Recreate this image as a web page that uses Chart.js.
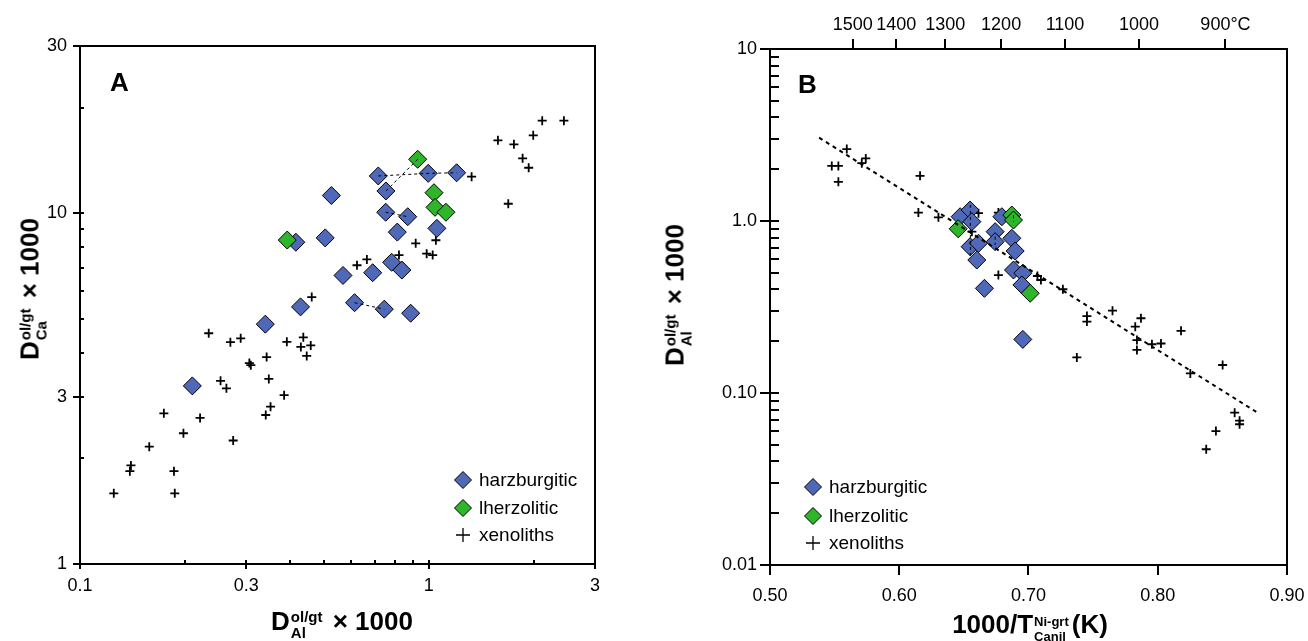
<!DOCTYPE html>
<html>
<head>
<meta charset="utf-8">
<script src="https://cdn.jsdelivr.net/npm/chart.js@4.4.1/dist/chart.umd.min.js"></script>
<style>
  body { margin: 0; background: #fff; }
  #wrap { position: relative; width: 1308px; height: 641px; overflow: hidden; font-family: 'Liberation Sans', Arial, sans-serif; color: #000; }
  canvas { position: absolute; top: 0; }
  #chartA { left: 0; }
  #chartB { left: 654px; }
  .panel { position: absolute; font-weight: bold; font-size: 26px; line-height: 26px; }
  .ttl { position: absolute; font-weight: bold; font-size: 26px; line-height: 30px; white-space: nowrap; }
  .ss { display: inline-block; vertical-align: -8px; font-size: 15px; line-height: 16px; margin: 0 3px 0 1px; }
  .ss.small { font-size: 13px; line-height: 15px; }
  .ss span { display: block; }
  .rot { transform: translate(-50%, -50%) rotate(-90deg); }
  .hor { transform: translateX(-50%); }
  .legend-item { position: absolute; font-size: 19px; line-height: 22px; display: flex; align-items: center; white-space: nowrap; }
  .legend-item svg { margin-right: 7px; }
</style>
</head>
<body>
<div id="wrap">
  <canvas id="chartA" width="654" height="641"></canvas>
  <canvas id="chartB" width="654" height="641"></canvas>

  <div class="panel" style="left:110px; top:69px;">A</div>
  <div class="panel" style="left:798px; top:71px;">B</div>

  <div class="ttl rot" style="left:32px; top:289px;">D<span class="ss"><span>ol/gt</span><span>Ca</span></span> × 1000</div>
  <div class="ttl hor" style="left:342px; top:606px;">D<span class="ss"><span>ol/gt</span><span>Al</span></span> × 1000</div>
  <div class="ttl rot" style="left:677px; top:295px;">D<span class="ss"><span>ol/gt</span><span>Al</span></span> × 1000</div>
  <div class="ttl hor" style="left:1030px; top:609px;">1000/T<span class="ss small"><span>Ni-grt</span><span>Canil</span></span>(K)</div>

  <div id="legendA"></div>
  <div id="legendB"></div>
</div>

<script>
// ---- Panel A: D(Ca) vs D(Al), log-log ----
const harzAX = [0.210, 0.340, 0.429, 0.416, 0.505, 0.526, 0.568, 0.613, 0.691, 0.717, 0.754, 0.753, 0.746, 0.783, 0.813, 0.838, 0.871, 0.888, 0.997, 1.056, 1.203];
const harzAY = [3.22, 4.83, 5.41, 8.27, 8.51, 11.24, 6.65, 5.56, 6.77, 12.78, 11.58, 10.07, 5.33, 7.25, 8.84, 6.89, 9.78, 5.19, 13.0, 9.06, 13.05];
const lherzAX = [0.393, 0.930, 1.036, 1.043, 1.121];
const lherzAY = [8.39, 14.26, 11.45, 10.40, 10.07];
const xenoAX = [2.117, 2.443, 1.580, 1.756, 1.995, 1.860, 1.936, 1.328, 1.692, 0.918, 1.049, 0.987, 1.027, 0.822, 0.665, 0.623, 0.462, 0.234, 0.270, 0.289, 0.306, 0.309, 0.343, 0.392, 0.437, 0.430, 0.459, 0.447, 0.348, 0.253, 0.263, 0.385, 0.352, 0.341, 0.174, 0.221, 0.198, 0.158, 0.275, 0.140, 0.139, 0.186, 0.125, 0.187];
const xenoAY = [18.37, 18.37, 16.15, 15.73, 16.69, 14.35, 13.49, 12.72, 10.65, 8.21, 8.38, 7.67, 7.60, 7.60, 7.39, 7.11, 5.77, 4.55, 4.29, 4.40, 3.74, 3.69, 3.89, 4.30, 4.43, 4.16, 4.20, 3.92, 3.37, 3.33, 3.17, 3.03, 2.81, 2.66, 2.69, 2.61, 2.36, 2.16, 2.25, 1.91, 1.84, 1.84, 1.59, 1.59];
// dashed tie lines between samples
const tiesA = [
    { x: [0.717, 0.997, 1.203], y: [12.78, 13.0, 13.05] },
    { x: [0.754, 0.930], y: [11.58, 14.26] },
    { x: [0.753, 0.871], y: [10.07, 9.78] },
    { x: [0.613, 0.746], y: [5.56, 5.33] }
];
const xTicksA = [0.1, 0.2, 0.3, 0.4, 0.5, 0.6, 0.7, 0.8, 0.9, 1, 2, 3];
const xLabelsA = [0.1, 0.3, 1, 3];
const yTicksA = [1, 2, 3, 4, 5, 6, 7, 8, 9, 10, 20, 30];
const yLabelsA = [1, 3, 10, 30];

// ---- Panel B: D(Al) vs 1000/T ----
const harzBX = [0.6471, 0.6548, 0.6562, 0.6548, 0.6613, 0.6600, 0.6742, 0.6742, 0.6794, 0.6871, 0.6897, 0.6884, 0.6956, 0.6949, 0.6659, 0.6956];
const harzBY = [1.059, 1.158, 0.991, 0.709, 0.742, 0.593, 0.867, 0.758, 1.059, 0.793, 0.669, 0.519, 0.497, 0.425, 0.406, 0.205];
const lherzBX = [0.6456, 0.6871, 0.6884, 0.7013];
const lherzBY = [0.901, 1.083, 1.013, 0.380];
const xenoBX = [0.5594, 0.5478, 0.5529, 0.5529, 0.5710, 0.5741, 0.6161, 0.6148, 0.6303, 0.6613, 0.6562, 0.6767, 0.6767, 0.7069, 0.7096, 0.7266, 0.7452, 0.7452, 0.7650, 0.7870, 0.7826, 0.7839, 0.7839, 0.7955, 0.8025, 0.8180, 0.7374, 0.8502, 0.8252, 0.8595, 0.8633, 0.8633, 0.8450, 0.8375];
const xenoBY = [2.62, 2.09, 2.09, 1.69, 2.17, 2.31, 1.83, 1.12, 1.05, 1.11, 0.867, 1.12, 0.485, 0.479, 0.454, 0.401, 0.280, 0.260, 0.301, 0.272, 0.243, 0.203, 0.178, 0.192, 0.194, 0.230, 0.161, 0.1455, 0.130, 0.0768, 0.069, 0.0658, 0.0601, 0.0471];
const fitBX = [0.538, 0.878];
const fitBY = [3.05, 0.0762];
const tiesB = [
    { x: [0.655, 0.655], y: [1.24, 0.60] },
    { x: [0.6742, 0.6742], y: [0.81, 0.725] },
    { x: [0.6884, 0.6884], y: [1.08, 0.99] }
];
const xTicksB = [0.5, 0.6, 0.7, 0.8, 0.9];
const tempsC = [1500, 1400, 1300, 1200, 1100, 1000, 900];
const tempLabels = ['1500', '1400', '1300', '1200', '1100', '1000', '900°C'];
const yLabelsB = [0.01, 0.1, 1, 10];
const yLabelTextB = ['0.01', '0.10', '1.0', '10'];
const yTicksB = [];
[0.01, 0.1, 1].forEach(d => { for (let k = 1; k < 10; k++) yTicksB.push(+(d * k).toPrecision(3)); });
yTicksB.push(10);

const BLUE = '#5068b8';
const GREEN = '#2fb52a';
const FONT = "'Liberation Sans', Arial, sans-serif";

Chart.defaults.font.family = FONT;
Chart.defaults.font.size = 18;
Chart.defaults.color = '#000';

const pts = (xs, ys) => xs.map((x, i) => ({ x: x, y: ys[i] }));

function markerSets(hx, hy, lx, ly, xx, xy) {
    return [
        { data: pts(lx, ly), pointStyle: 'rectRot', pointRadius: 9, backgroundColor: GREEN, borderColor: '#000', borderWidth: 1, order: 1 },
        { data: pts(hx, hy), pointStyle: 'rectRot', pointRadius: 9, backgroundColor: BLUE, borderColor: '#000', borderWidth: 1, order: 2 },
        { data: pts(xx, xy), pointStyle: 'cross', pointRadius: 4.5, borderColor: '#000', borderWidth: 1.8, order: 3 }
    ];
}

function tieSets(ties, width, dash) {
    return ties.map(t => ({
        data: pts(t.x, t.y), showLine: true, pointRadius: 0, borderColor: '#000',
        borderWidth: width, borderDash: dash, order: 0
    }));
}

// frame and tick marks (outside / inside lengths, major = labelled)
function axisMarks(len) {
    return {
        id: 'axisMarks',
        afterDraw(chart) {
            const ctx = chart.ctx;
            const a = chart.chartArea;
            ctx.save();
            ctx.strokeStyle = '#000';
            ctx.lineWidth = 2;
            ctx.strokeRect(a.left, a.top, a.right - a.left, a.bottom - a.top);
            Object.keys(len).forEach(id => {
                const s = chart.scales[id];
                s.ticks.forEach(t => {
                    const [out, inn] = t.label !== '' ? len[id].major : len[id].minor;
                    const p = Math.round(s.getPixelForValue(t.value));
                    ctx.beginPath();
                    if (s.position === 'bottom') {
                        ctx.moveTo(p, a.bottom + out); ctx.lineTo(p, a.bottom - inn);
                    } else if (s.position === 'top') {
                        ctx.moveTo(p, a.top - out); ctx.lineTo(p, a.top + inn);
                    } else {
                        ctx.moveTo(a.left - out, p); ctx.lineTo(a.left + inn, p);
                    }
                    ctx.stroke();
                });
            });
            ctx.restore();
        }
    };
}

const baseOptions = {
    responsive: false,
    animation: false,
    events: [],
    plugins: { legend: { display: false }, tooltip: { enabled: false } }
};

const setTicks = arr => s => { s.ticks = arr.map(v => ({ value: v })); };
// fixed axis size, no extra room for edge labels
const fixSize = (key, size) => s => {
    s[key] = size;
    s.paddingLeft = s.paddingRight = s.paddingTop = s.paddingBottom = 0;
};
const noGrid = { display: false, drawTicks: false };

const chartA = new Chart(document.getElementById('chartA'), {
    type: 'scatter',
    data: {
        datasets: tieSets(tiesA, 1, [3, 3]).concat(markerSets(harzAX, harzAY, lherzAX, lherzAY, xenoAX, xenoAY))
    },
    options: Object.assign({}, baseOptions, {
        layout: { padding: { left: 0, top: 46, right: 59, bottom: 0 } },
        scales: {
            x: {
                type: 'logarithmic', position: 'bottom', min: 0.1, max: 3,
                afterBuildTicks: setTicks(xTicksA),
                afterFit: fixSize('height', 77),
                grid: noGrid, border: { display: false },
                ticks: { autoSkip: false, maxRotation: 0, padding: 11,
                    callback: v => xLabelsA.includes(v) ? String(v) : '' }
            },
            y: {
                type: 'logarithmic', position: 'left', min: 1, max: 30,
                afterBuildTicks: setTicks(yTicksA),
                afterFit: fixSize('width', 80),
                grid: noGrid, border: { display: false },
                ticks: { autoSkip: false, padding: 13,
                    callback: v => yLabelsA.includes(v) ? String(v) : '' }
            }
        }
    }),
    plugins: [axisMarks({ x: { major: [5, 4], minor: [0, 4] }, y: { major: [7, 4], minor: [0, 4] } })]
});

const chartB = new Chart(document.getElementById('chartB'), {
    type: 'scatter',
    data: {
        datasets: [{
            data: pts(fitBX, fitBY), showLine: true, pointRadius: 0, borderColor: '#000',
            borderWidth: 2, borderDash: [4, 4], order: 0
        }].concat(tieSets(tiesB, 1, [3, 3]), markerSets(harzBX, harzBY, lherzBX, lherzBY, xenoBX, xenoBY))
    },
    options: Object.assign({}, baseOptions, {
        layout: { padding: { left: 0, top: 0, right: 21, bottom: 0 } },
        scales: {
            x: {
                type: 'linear', position: 'bottom', min: 0.5, max: 0.9,
                afterBuildTicks: setTicks(xTicksB),
                afterFit: fixSize('height', 76),
                grid: noGrid, border: { display: false },
                ticks: { autoSkip: false, maxRotation: 0, padding: 20,
                    callback: v => v.toFixed(2) }
            },
            x2: {
                type: 'linear', position: 'top', min: 0.5, max: 0.9,
                afterBuildTicks: setTicks(tempsC.map(t => 1000 / (t + 273.15))),
                afterFit: fixSize('height', 49),
                grid: noGrid, border: { display: false },
                ticks: { autoSkip: false, maxRotation: 0, padding: 13,
                    callback: (v, i) => tempLabels[i] }
            },
            y: {
                type: 'logarithmic', position: 'left', min: 0.01, max: 10,
                afterBuildTicks: setTicks(yTicksB),
                afterFit: fixSize('width', 116),
                grid: noGrid, border: { display: false },
                ticks: { autoSkip: false, padding: 13,
                    callback: v => {
                        const i = yLabelsB.indexOf(v);
                        return i >= 0 ? yLabelTextB[i] : '';
                    } }
            }
        }
    }),
    plugins: [axisMarks({ x: { major: [10, 0], minor: [0, 0] }, x2: { major: [10, 0], minor: [0, 0] },
        y: { major: [10, 9], minor: [0, 9] } })]
});

// ---- HTML legends ----
const legendItems = [
    { label: 'harzburgitic', kind: 'diamond', color: BLUE },
    { label: 'lherzolitic', kind: 'diamond', color: GREEN },
    { label: 'xenoliths', kind: 'cross' }
];

function markerSvg(item) {
    if (item.kind === 'diamond') {
        return '<svg width="18" height="18" viewBox="0 0 18 18"><polygon points="9,0.5 17.5,9 9,17.5 0.5,9" fill="' +
            item.color + '" stroke="#000" stroke-width="1"/></svg>';
    }
    return '<svg width="18" height="18" viewBox="0 0 18 18"><path d="M2,9 H16 M9,2 V16" stroke="#000" stroke-width="1.3"/></svg>';
}

function createLegend(containerId, cx, rows) {
    const container = document.getElementById(containerId);
    container.innerHTML = '';
    legendItems.forEach((item, i) => {
        const div = document.createElement('div');
        div.classList.add('legend-item');
        div.style.left = (cx - 9) + 'px';
        div.style.top = (rows[i] - 11) + 'px';
        div.innerHTML = markerSvg(item) + '<span>' + item.label + '</span>';
        container.appendChild(div);
    });
}

createLegend('legendA', 463, [480, 508, 535]);
createLegend('legendB', 813, [487, 516, 543]);
</script>
</body>
</html>
